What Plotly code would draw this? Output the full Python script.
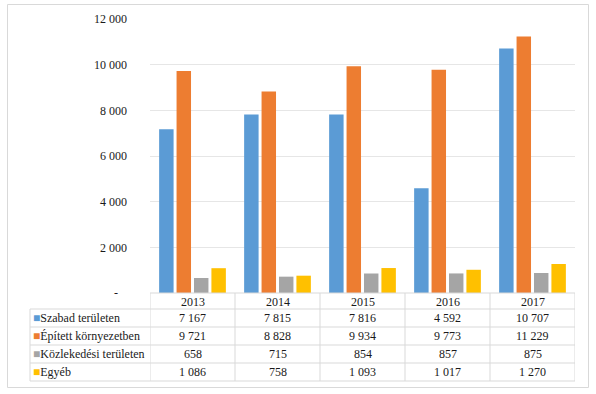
import plotly.graph_objects as go

years = ["2013", "2014", "2015", "2016", "2017"]
series_names = ["Szabad területen", "Épített környezetben", "Közlekedési területen", "Egyéb"]
szabad = [7167, 7815, 7816, 4592, 10707]
epitett = [9721, 8828, 9934, 9773, 11229]
kozlekedesi = [658, 715, 854, 857, 875]
egyeb = [1086, 758, 1093, 1017, 1270]
colors = ["#5b9bd5", "#ed7d31", "#a5a5a5", "#ffc000"]
y_ticks = [0, 2000, 4000, 6000, 8000, 10000, 12000]
y_ticktext = ["-   ", "2 000", "4 000", "6 000", "8 000", "10 000", "12 000"]

series = [szabad, epitett, kozlekedesi, egyeb]

FONT = "Liberation Serif"
W, H = 596, 394
ML, MT = 150, 19
MR = W - 575
MB = H - 293
PW = W - ML - MR
PH = H - MT - MB


def py(pix):
    return (H - MB - pix) / PH


def px(pix):
    return (pix - ML) / PW


def fmt(v):
    return f"{v:,}".replace(",", " ")


fig = go.Figure()
for name, vals, c in zip(series_names, series, colors):
    fig.add_trace(go.Bar(x=years, y=vals, name=name, marker=dict(color=c, line=dict(width=0))))

shapes = []
annotations = []
grid_c = "#d9d9d9"
txt_c = "#1a1a1a"

# outer border
shapes.append(dict(type="rect", xref="paper", yref="paper", x0=px(7.5), x1=px(588.5), y0=py(387.5), y1=py(4.5),
                   line=dict(color="#d9d9d9", width=1), layer="below"))

# table horizontal lines
row_lines = [309, 327, 345, 363, 381]
shapes.append(dict(type="line", xref="x", yref="paper", x0=-0.5, x1=len(years) - 0.5, y0=0, y1=0,
                   line=dict(color=grid_c, width=1)))
for r in row_lines:
    shapes.append(dict(type="line", xref="paper", yref="paper", x0=px(30), x1=1, y0=py(r), y1=py(r),
                       line=dict(color=grid_c, width=1)))
# vertical lines
for i in range(len(years) + 1):
    shapes.append(dict(type="line", xref="x", yref="paper", x0=i - 0.5, x1=i - 0.5, y0=0, y1=py(381),
                       line=dict(color=grid_c, width=1)))
shapes.append(dict(type="line", xref="paper", yref="paper", x0=px(30), x1=px(30), y0=py(309), y1=py(381),
                   line=dict(color=grid_c, width=1)))

# header years
for i, y in enumerate(years):
    annotations.append(dict(x=i, xref="x", y=py(301.5), yref="paper", text=y, showarrow=False,
                            font=dict(family=FONT, size=12, color=txt_c), xanchor="center", yanchor="middle"))

row_centers = [318, 336, 354, 372]
for name, vals, c, rc in zip(series_names, series, colors, row_centers):
    annotations.append(dict(x=px(31), xref="paper", y=py(rc), yref="paper",
                            text=f"<span style='color:{c}'>■</span>{name}", showarrow=False,
                            font=dict(family=FONT, size=12, color=txt_c), xanchor="left", yanchor="middle"))
    for i, v in enumerate(vals):
        annotations.append(dict(x=i, xref="x", y=py(rc), yref="paper", text=fmt(v), showarrow=False,
                                font=dict(family=FONT, size=12, color=txt_c), xanchor="center",
                                yanchor="middle"))

fig.update_layout(
    width=W, height=H,
    margin=dict(l=ML, r=MR, t=MT, b=MB, pad=0),
    paper_bgcolor="white", plot_bgcolor="white",
    barmode="group", bargap=0.18, bargroupgap=0.17,
    showlegend=False,
    font=dict(family=FONT, size=12, color=txt_c),
    xaxis=dict(type="category", range=[-0.5, len(years) - 0.5], showticklabels=False, showgrid=False,
               zeroline=False, showline=False, ticks=""),
    yaxis=dict(range=[0, 12000], tickvals=y_ticks, ticktext=y_ticktext, showgrid=True, gridcolor="#e6e6e6",
               gridwidth=1, zeroline=False, showline=False, ticks="", ticklabelstandoff=22,
               tickfont=dict(family=FONT, size=12, color=txt_c)),
    shapes=shapes,
    annotations=annotations,
)

fig.write_html("out.html", config={"displayModeBar": False},
               post_script="document.body.style.margin='0';")
